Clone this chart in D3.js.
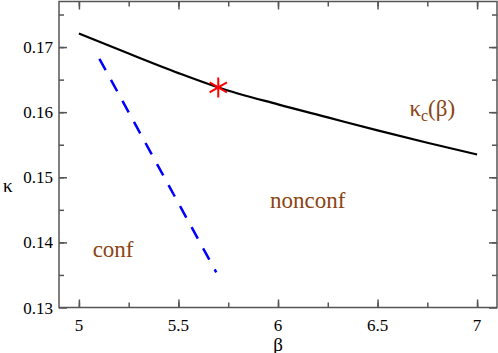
<!DOCTYPE html>
<html>
<head>
<meta charset="utf-8">
<script src="https://cdn.jsdelivr.net/npm/d3@7"></script>
<style>
  @font-face { font-family: "ChartSerif"; src: local("Liberation Serif"), local("LiberationSerif"), local("Times New Roman"); }
  svg text, svg tspan { font-family: "Liberation Serif", "ChartSerif", "Times New Roman", serif !important; }
</style>
</head>
<body style="margin:0">
<div id="chart"></div>
<script>
// kappa_c(beta) line, conf boundary, and the marked point
const betaLine = [5.0, 5.25, 5.5, 5.7, 6.0, 6.25, 6.5, 6.75, 7.0]
const kappaLine = [0.1721, 0.169, 0.166, 0.1638, 0.1612, 0.1592, 0.1572, 0.1553, 0.1535]

const betaConf = [5.103, 5.69]
const kappaConf = [0.1682, 0.1354]

const starPoint = [5.7, 0.1638]

const xTicks = [5, 5.5, 6, 6.5, 7]
const yTicks = [0.13, 0.14, 0.15, 0.16, 0.17]

const labels = [
  { text: 'nonconf', x: 5.96, y: 0.1453 },
  { text: 'conf', x: 5.069, y: 0.1378 }
]

const margin = { top: 1.5, left: 59, right: 1, bottom: 45.5 }
const width = 498 - margin.left - margin.right
const height = 353 - margin.top - margin.bottom
const fontName = '"Liberation Serif", "ChartSerif", "Times New Roman", serif'

const root = d3
  .select('#chart')
  .append('svg')
  .attr('width', 498)
  .attr('height', 353)

const svg = root
  .append('g')
  .attr('transform', 'translate(' + margin.left + ',' + margin.top + ')')

const x = d3.scaleLinear().domain([4.9, 7.1]).range([0, width])
const y = d3.scaleLinear().domain([0.13, 0.177]).range([height, 0])
const px = v => x(v) + margin.left
const py = v => y(v) + margin.top

const axisColor = '#555'
const brown = '#8b4513'

// ticks (inward on all four sides)
const xMinor = d3.range(4.75, 7.1, 0.25).filter(v => x(v) > 0 && x(v) < width)
const yMinor = d3.range(0.125, 0.177, 0.005).filter(v => y(v) > 0.5 && y(v) < height)

function drawTicks(g, axis) {
  g.call(axis)
  g.select('.domain').remove()
  g.selectAll('line').attr('stroke', axisColor).attr('stroke-width', 1.5)
  g.selectAll('text').remove()
  g.attr('font-family', null).attr('font-size', null)
}

svg.append('g').attr('transform', 'translate(0,' + height + ')')
  .call(drawTicks, d3.axisBottom(x).tickValues(xMinor).tickSize(-5))
svg.append('g').attr('transform', 'translate(0,' + height + ')')
  .call(drawTicks, d3.axisBottom(x).tickValues(xTicks).tickSize(-8))
svg.append('g')
  .call(drawTicks, d3.axisTop(x).tickValues(xMinor).tickSize(-5))
svg.append('g')
  .call(drawTicks, d3.axisTop(x).tickValues(xTicks).tickSize(-8))
svg.append('g')
  .call(drawTicks, d3.axisLeft(y).tickValues(yMinor).tickSize(-5))
svg.append('g')
  .call(drawTicks, d3.axisLeft(y).tickValues(yTicks).tickSize(-8))
svg.append('g').attr('transform', 'translate(' + width + ',0)')
  .call(drawTicks, d3.axisRight(y).tickValues(yMinor).tickSize(-5))
svg.append('g').attr('transform', 'translate(' + width + ',0)')
  .call(drawTicks, d3.axisRight(y).tickValues(yTicks).tickSize(-8))

// frame
svg.append('rect')
  .attr('width', width)
  .attr('height', height)
  .attr('fill', 'none')
  .attr('stroke', axisColor)
  .attr('stroke-width', 1.5)

// curves
const line = d3.line().x(d => x(d[0])).y(d => y(d[1])).curve(d3.curveMonotoneX)

svg.append('path')
  .datum(d3.zip(betaLine, kappaLine))
  .attr('fill', 'none')
  .attr('stroke', '#000')
  .attr('stroke-width', 2.2)
  .attr('d', line)

svg.append('path')
  .datum(d3.zip(betaConf, kappaConf))
  .attr('fill', 'none')
  .attr('stroke', '#0000ff')
  .attr('stroke-width', 2.5)
  .attr('stroke-dasharray', '13,11')
  .attr('d', d3.line().x(d => x(d[0])).y(d => y(d[1])))

// red asterisk
const r = 10
const star = [90, 30, 150].map(a => {
  const t = a * Math.PI / 180
  return 'M' + (-r * Math.cos(t)) + ',' + (r * Math.sin(t)) + 'L' + (r * Math.cos(t)) + ',' + (-r * Math.sin(t))
}).join('')
svg.append('path')
  .attr('transform', 'translate(' + x(starPoint[0]) + ',' + y(starPoint[1]) + ')')
  .attr('d', star)
  .attr('stroke', '#ff0000')
  .attr('stroke-width', 2)
  .attr('fill', 'none')

// texts
root.selectAll('text.xt')
  .data(xTicks)
  .enter()
  .append('text')
  .attr('class', 'xt')
  .attr('x', d => px(d))
  .attr('y', margin.top + height + 23)
  .attr('text-anchor', 'middle')
  .attr('font-family', fontName)
  .attr('font-size', 17)
  .text(d => d)

root.selectAll('text.yt')
  .data(yTicks)
  .enter()
  .append('text')
  .attr('class', 'yt')
  .attr('x', margin.left - 6)
  .attr('y', d => py(d) + 6)
  .attr('text-anchor', 'end')
  .attr('font-family', fontName)
  .attr('font-size', 17)
  .text(d => d.toFixed(2))

root.append('text')
  .attr('x', px(6))
  .attr('y', margin.top + height + 43)
  .attr('text-anchor', 'middle')
  .attr('font-family', fontName)
  .attr('font-size', 19)
  .text('β')

root.append('text')
  .attr('x', 3)
  .attr('y', py(0.1478))
  .attr('font-family', fontName)
  .attr('font-size', 19)
  .text('κ')

root.selectAll('text.region')
  .data(labels)
  .enter()
  .append('text')
  .attr('class', 'region')
  .attr('x', d => px(d.x))
  .attr('y', d => py(d.y))
  .attr('fill', brown)
  .attr('font-family', fontName)
  .attr('font-size', 23)
  .text(d => d.text)

const kc = root.append('text')
  .attr('x', px(6.66))
  .attr('y', py(0.1594))
  .attr('fill', brown)
  .attr('font-family', fontName)
  .attr('font-size', 23)
kc.append('tspan').text('κ')
kc.append('tspan').attr('font-size', 16).attr('dy', 5).text('c')
kc.append('tspan').attr('dy', -5).text('(β)')
</script>
</body>
</html>
